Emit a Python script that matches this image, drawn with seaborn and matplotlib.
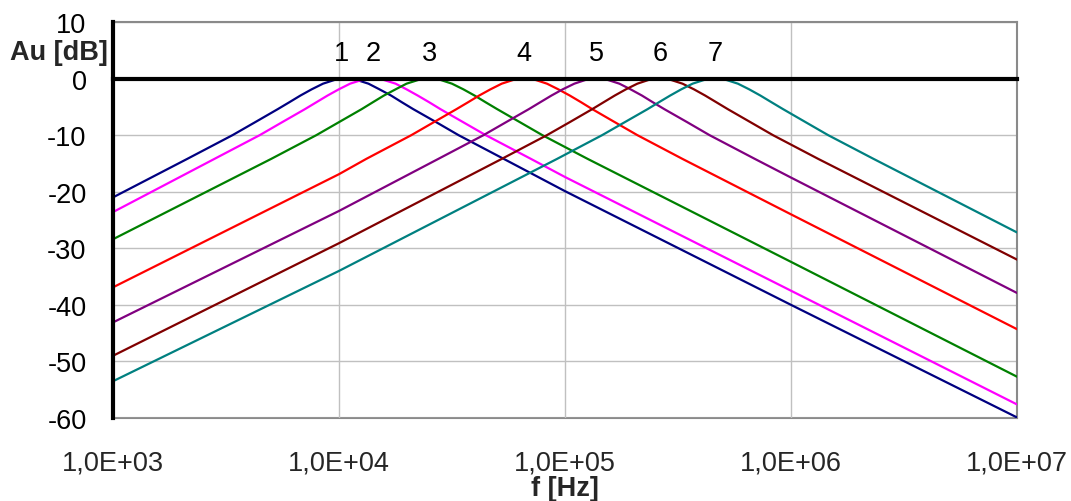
import matplotlib
matplotlib.use("Agg")
import matplotlib.pyplot as plt
from matplotlib.ticker import NullLocator, FixedLocator
import pandas as pd
import seaborn as sns

# Frequency response of seven band-pass stages: frequency [Hz] and gain [dB]
f1 = [1e3, 2.13e3, 3.38e3, 4.26e3, 5.36e3, 6.02e3, 6.75e3, 7.57e3, 8.5e3, 9.54e3, 1.07e4,
      1.2e4, 1.35e4, 1.51e4, 1.7e4, 1.9e4, 2.13e4, 2.69e4, 3.38e4, 5.36e4, 1e5, 1e6, 1e7]
g1 = [-21.0, -14.2, -10.0, -7.7, -5.4, -4.2, -3.0, -1.9, -0.9, -0.25, 0.0,
      -0.25, -0.9, -1.9, -3.0, -4.2, -5.4, -7.7, -10.0, -14.2, -19.9, -40.0, -59.9]

f2 = [1e3, 2.81e3, 4.46e3, 5.61e3, 7.07e3, 7.93e3, 8.9e3, 9.98e3, 1.12e4, 1.26e4, 1.41e4,
      1.58e4, 1.78e4, 1.99e4, 2.23e4, 2.51e4, 2.81e4, 3.54e4, 4.46e4, 7.07e4, 1e5, 1e6, 1e7]
g2 = [-23.6, -14.2, -10.0, -7.7, -5.4, -4.2, -3.0, -1.9, -0.9, -0.25, 0.0,
      -0.25, -0.9, -1.9, -3.0, -4.2, -5.4, -7.7, -10.0, -14.2, -17.4, -37.5, -57.6]

f3 = [1e3, 5.01e3, 7.94e3, 1.0e4, 1.26e4, 1.41e4, 1.58e4, 1.78e4, 1.99e4, 2.24e4, 2.51e4,
      2.82e4, 3.16e4, 3.55e4, 3.98e4, 4.46e4, 5.01e4, 6.31e4, 7.94e4, 1e5, 1.26e5, 1e6, 1e7]
g3 = [-28.4, -14.2, -10.0, -7.7, -5.4, -4.2, -3.0, -1.9, -0.9, -0.25, 0.0,
      -0.25, -0.9, -1.9, -3.0, -4.2, -5.4, -7.7, -10.0, -12.1, -14.2, -32.4, -52.7]

f4 = [1e3, 1e4, 1.32e4, 2.09e4, 2.63e4, 3.31e4, 3.72e4, 4.17e4, 4.68e4, 5.25e4, 5.89e4, 6.61e4,
      7.42e4, 8.32e4, 9.34e4, 1.05e5, 1.18e5, 1.32e5, 1.66e5, 2.09e5, 3.31e5, 1e6, 1e7]
g4 = [-36.9, -16.9, -14.2, -10.0, -7.7, -5.4, -4.2, -3.0, -1.9, -0.9, -0.25, 0.0,
      -0.25, -0.9, -1.9, -3.0, -4.2, -5.4, -7.7, -10.0, -14.2, -24.0, -44.3]

f5 = [1e3, 1e4, 2.75e4, 4.36e4, 5.49e4, 6.92e4, 7.76e4, 8.71e4, 9.77e4, 1.1e5, 1.23e5, 1.38e5,
      1.55e5, 1.74e5, 1.95e5, 2.19e5, 2.45e5, 2.75e5, 3.47e5, 4.36e5, 6.92e5, 1e6, 1e7]
g5 = [-43.1, -23.4, -14.2, -10.0, -7.7, -5.4, -4.2, -3.0, -1.9, -0.9, -0.25, 0.0,
      -0.25, -0.9, -1.9, -3.0, -4.2, -5.4, -7.7, -10.0, -14.2, -17.5, -37.9]

f6 = [1e3, 1e4, 5.25e4, 8.32e4, 1.05e5, 1.32e5, 1.48e5, 1.66e5, 1.86e5, 2.09e5, 2.34e5, 2.63e5,
      2.95e5, 3.31e5, 3.72e5, 4.17e5, 4.68e5, 5.25e5, 6.61e5, 8.32e5, 1.32e6, 1e7]
g6 = [-49.0, -29.1, -14.2, -10.0, -7.7, -5.4, -4.2, -3.0, -1.9, -0.9, -0.25, 0.0,
      -0.25, -0.9, -1.9, -3.0, -4.2, -5.4, -7.7, -10.0, -14.2, -32.0]

f7 = [1e3, 1e4, 9.22e4, 1.46e5, 1.84e5, 2.32e5, 2.6e5, 2.92e5, 3.27e5, 3.67e5, 4.12e5, 4.62e5,
      5.18e5, 5.82e5, 6.53e5, 7.32e5, 8.21e5, 9.22e5, 1.16e6, 1.46e6, 2.32e6, 1e7]
g7 = [-53.5, -34.0, -14.2, -10.0, -7.7, -5.4, -4.2, -3.0, -1.9, -0.9, -0.25, 0.0,
      -0.25, -0.9, -1.9, -3.0, -4.2, -5.4, -7.7, -10.0, -14.2, -27.2]

curve_names = ["1", "2", "3", "4", "5", "6", "7"]
peak_freqs = [1.03e4, 1.41e4, 2.51e4, 6.61e4, 1.38e5, 2.63e5, 4.62e5]
curve_colors = ["#000080", "#FF00FF", "#008000", "#FF0000", "#800080", "#800000", "#008080"]

x_ticks = [1e3, 1e4, 1e5, 1e6, 1e7]
x_tick_labels = ["1,0E+03", "1,0E+04", "1,0E+05", "1,0E+06", "1,0E+07"]
y_ticks = [-60, -50, -40, -30, -20, -10, 0, 10]
y_tick_labels = ["-60", "-50", "-40", "-30", "-20", "-10", "0", "10"]

freqs = [f1, f2, f3, f4, f5, f6, f7]
gains = [g1, g2, g3, g4, g5, g6, g7]
df = pd.concat(
    [pd.DataFrame({"f": f, "dB": g, "curve": n}) for f, g, n in zip(freqs, gains, curve_names)],
    ignore_index=True,
)

sns.set_style("white")
plt.rcParams["font.family"] = ["Liberation Sans", "DejaVu Sans"]
plt.rcParams["axes.unicode_minus"] = False

FS = 19.5
W, H = 1071, 502
fig = plt.figure(figsize=(W / 100, H / 100), dpi=100)
ax = fig.add_axes([113 / W, 83 / H, 904 / W, 396 / H])

sns.lineplot(data=df, x="f", y="dB", hue="curve", hue_order=curve_names,
             palette=curve_colors, linewidth=1.6, legend=False, ax=ax, zorder=3)

ax.set_xscale("log")
ax.set_xlim(1e3, 1e7)
ax.set_ylim(-60, 10)
ax.set_xlabel("")
ax.set_ylabel("")

# grid
ax.set_axisbelow(True)
ax.grid(True, which="major", color="#c0c0c0", linewidth=1.0)

# x axis line drawn at 0 dB with downward ticks
ax.xaxis.set_major_locator(FixedLocator(x_ticks))
ax.xaxis.set_minor_locator(NullLocator())
ax.spines["bottom"].set_position(("data", 0))
ax.spines["bottom"].set_color("black")
ax.spines["bottom"].set_linewidth(3)
ax.spines["bottom"].set_zorder(4)
ax.tick_params(axis="x", which="major", direction="out", length=7, width=2.2,
               color="black", labelbottom=False)

# y axis
ax.set_yticks(y_ticks)
ax.set_yticklabels(y_tick_labels)
ax.spines["left"].set_color("black")
ax.spines["left"].set_linewidth(3)
ax.spines["left"].set_zorder(4)
ax.tick_params(axis="y", direction="out", length=8, width=2.2, color="black",
               pad=11, labelsize=FS, labelcolor="black")

for side in ("top", "right"):
    ax.spines[side].set_visible(True)
    ax.spines[side].set_color("#8a8a8a")
    ax.spines[side].set_linewidth(1.5)

# frequency labels along the bottom edge
sec = ax.secondary_xaxis("bottom")
sec.xaxis.set_major_locator(FixedLocator(x_ticks))
sec.xaxis.set_minor_locator(NullLocator())
sec.set_xticklabels(x_tick_labels)
sec.tick_params(axis="x", which="both", length=0, pad=23, labelsize=FS)
sec.spines["bottom"].set_color("#8a8a8a")
sec.spines["bottom"].set_linewidth(1.5)

# curve numbers above each peak
for name, fp in zip(curve_names, peak_freqs):
    ax.text(fp, 4.6, name, ha="center", va="center", fontsize=FS, color="black")

fig.text(108 / W, 1 - 53 / H, "Au [dB]", ha="right", va="center",
         fontsize=FS, fontweight="bold")
fig.text(565 / W, 1 - 489 / H, "f [Hz]", ha="center", va="center",
         fontsize=FS, fontweight="bold")

fig.savefig("out.png", dpi=100, facecolor="white")
